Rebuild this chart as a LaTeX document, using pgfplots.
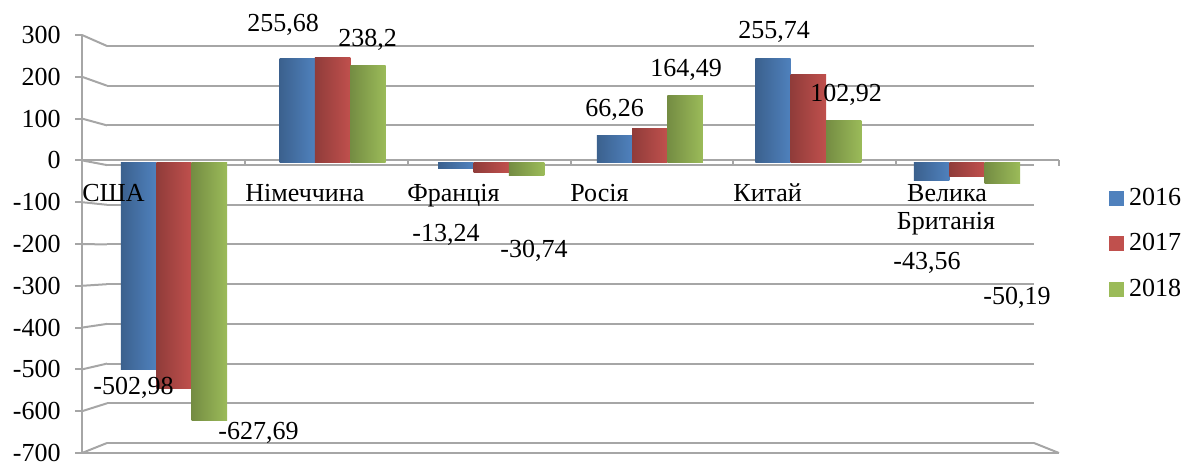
\documentclass[border=0pt]{standalone}
\usepackage{fontspec}
\setmainfont{Liberation Serif}
\usepackage{pgfplots}
\usepackage{pgfplotstable}
\pgfplotsset{compat=1.18}

\definecolor{gridc}{RGB}{166,166,166}
\definecolor{c16}{RGB}{79,129,189}
\definecolor{c17}{RGB}{192,80,77}
\definecolor{c18}{RGB}{155,187,89}

\pgfplotstableread{
x y2016 y2017 y2018
0 -502.98 -550 -627.69
1 255.68 258 238.2
2 -13.24 -24 -30.74
3 66.26 83 164.49
4 255.74 217 102.92
5 -43.56 -34 -50.19
}\trade

\newcommand{\lbl}{\fontsize{13}{15.6}\selectfont}
\pgfplotsset{
  s16/.style={left color=c16!75!black, middle color=c16!55!white, right color=c16},
  s17/.style={left color=c17!75!black, middle color=c17!55!white, right color=c17},
  s18/.style={left color=c18!75!black, middle color=c18!55!white, right color=c18},
}

\begin{document}
\begin{tikzpicture}[font=\lbl]
\path[use as bounding box] (0pt,0pt) rectangle (594.5pt,233pt);

% back wall
\begin{axis}[
    at={(53.5pt,11.5pt)}, anchor=south west,
    width=463.5pt, height=198.5pt, scale only axis,
    xmin=0, xmax=1, ymin=-700, ymax=300,
    ytick={-700,-600,-500,-400,-300,-200,-100,0,100,200,300},
    yticklabels={}, xtick=\empty,
    axis line style={draw=none}, tick style={draw=none},
    ymajorgrids, grid style={gridc, line width=1pt},
    clip=false,
]
\pgfplotsinvokeforeach{-700,-600,-500,-400,-300,-200,-100,0,100,200,300}{
  \coordinate (b#1) at (axis cs:0,#1);
}
\coordinate (br) at (axis cs:1,-700);
\end{axis}

% front axis
\begin{axis}[
    at={(41pt,6.5pt)}, anchor=south west,
    width=488.5pt, height=209pt, scale only axis,
    xmin=0, xmax=6, ymin=-700, ymax=300,
    axis x line=none, axis y line=left,
    axis line style={gridc, line width=1pt, -},
    ytick={-700,-600,-500,-400,-300,-200,-100,0,100,200,300},
    yticklabels={-700,-600,-500,-400,-300,-200,-100,0,100,200,300},
    yticklabel style={font=\lbl, inner sep=0pt, xshift=-7pt},
    tick style={gridc, line width=1pt},
    tick align=outside, major tick length=3.5pt,
    clip=false,
]
\pgfplotsinvokeforeach{-700,-600,-500,-400,-300,-200,-100,0,100,200,300}{
  \coordinate (f#1) at (axis cs:0,#1);
}
\draw[gridc, line width=1pt] (axis cs:0,0) -- (axis cs:6,0);
\draw[gridc, line width=1pt] (axis cs:0,-700) -- (axis cs:6,-700);
\coordinate (fr) at (axis cs:6,-700);
\pgfplotsinvokeforeach{1,2,3,4,5,6}{
  \draw[gridc, line width=1pt] (axis cs:#1,0) -- ++(0pt,-3pt);
}
\end{axis}

\foreach \v in {-700,-600,-500,-400,-300,-200,-100,0,100,200,300}{
  \draw[gridc, line width=1pt] (f\v) -- (b\v);
}
\draw[gridc, line width=1pt] (fr) -- (br);

% bars
\begin{axis}[
    at={(47.35pt,8pt)}, anchor=south west,
    width=475.8pt, height=205pt, scale only axis,
    xmin=-0.5, xmax=5.5, ymin=-700, ymax=300,
    axis lines=none, xtick=\empty, ytick=\empty,
    clip=false,
    legend style={at={(1.0659,0.639)}, anchor=north west, draw=none, fill=none,
        inner sep=0pt, font=\lbl, row sep=12.5pt,
        nodes={inner sep=0pt},
        /tikz/every odd column/.append style={column sep=2.5pt}},
    legend cell align=left,
]
\pgfplotsinvokeforeach{0,1,2,3,4,5}{
  \addplot[ybar, bar width=0.223, bar shift=-0.223, draw=none, s16, forget plot]
    table[x=x, y=y2016, restrict x to domain=#1:#1] {\trade};
  \addplot[ybar, bar width=0.223, bar shift=0, draw=none, s17, forget plot]
    table[x=x, y=y2017, restrict x to domain=#1:#1] {\trade};
  \addplot[ybar, bar width=0.223, bar shift=0.223, draw=none, s18, forget plot]
    table[x=x, y=y2018, restrict x to domain=#1:#1] {\trade};
}
\addlegendimage{legend image code/.code={\fill[c16] (0pt,-3.5pt) rectangle (7pt,3.5pt);}}
\addlegendimage{legend image code/.code={\fill[c17] (0pt,-3.5pt) rectangle (7pt,3.5pt);}}
\addlegendimage{legend image code/.code={\fill[c18] (0pt,-3.5pt) rectangle (7pt,3.5pt);}}
\legend{2016,2017,2018}
\end{axis}

\begin{scope}[x=0.5pt, y=0.5pt]
% category labels
\node[anchor=base west, inner sep=0pt] at (82,264) {США};
\node[anchor=base west, inner sep=0pt] at (245,264) {Німеччина};
\node[anchor=base west, inner sep=0pt] at (407,264) {Франція};
\node[anchor=base west, inner sep=0pt] at (570,264) {Росія};
\node[anchor=base west, inner sep=0pt] at (733,264) {Китай};
\node[anchor=base, inner sep=0pt] at (947,264) {Велика};
\node[anchor=base, inner sep=0pt] at (946,236) {Британія};

% data labels
\node[anchor=base west, inner sep=0pt] at (247,434) {255,68};
\node[anchor=base west, inner sep=0pt] at (338,419) {238,2};
\node[anchor=base west, inner sep=0pt] at (93,71) {-502,98};
\node[anchor=base west, inner sep=0pt] at (218,26) {-627,69};
\node[anchor=base west, inner sep=0pt] at (412,224) {-13,24};
\node[anchor=base west, inner sep=0pt] at (500,208) {-30,74};
\node[anchor=base west, inner sep=0pt] at (585,349) {66,26};
\node[anchor=base west, inner sep=0pt] at (650,389) {164,49};
\node[anchor=base west, inner sep=0pt] at (738,427) {255,74};
\node[anchor=base west, inner sep=0pt] at (810,364) {102,92};
\node[anchor=base west, inner sep=0pt] at (893,196) {-43,56};
\node[anchor=base west, inner sep=0pt] at (983,161) {-50,19};
\end{scope}
\end{tikzpicture}
\end{document}
